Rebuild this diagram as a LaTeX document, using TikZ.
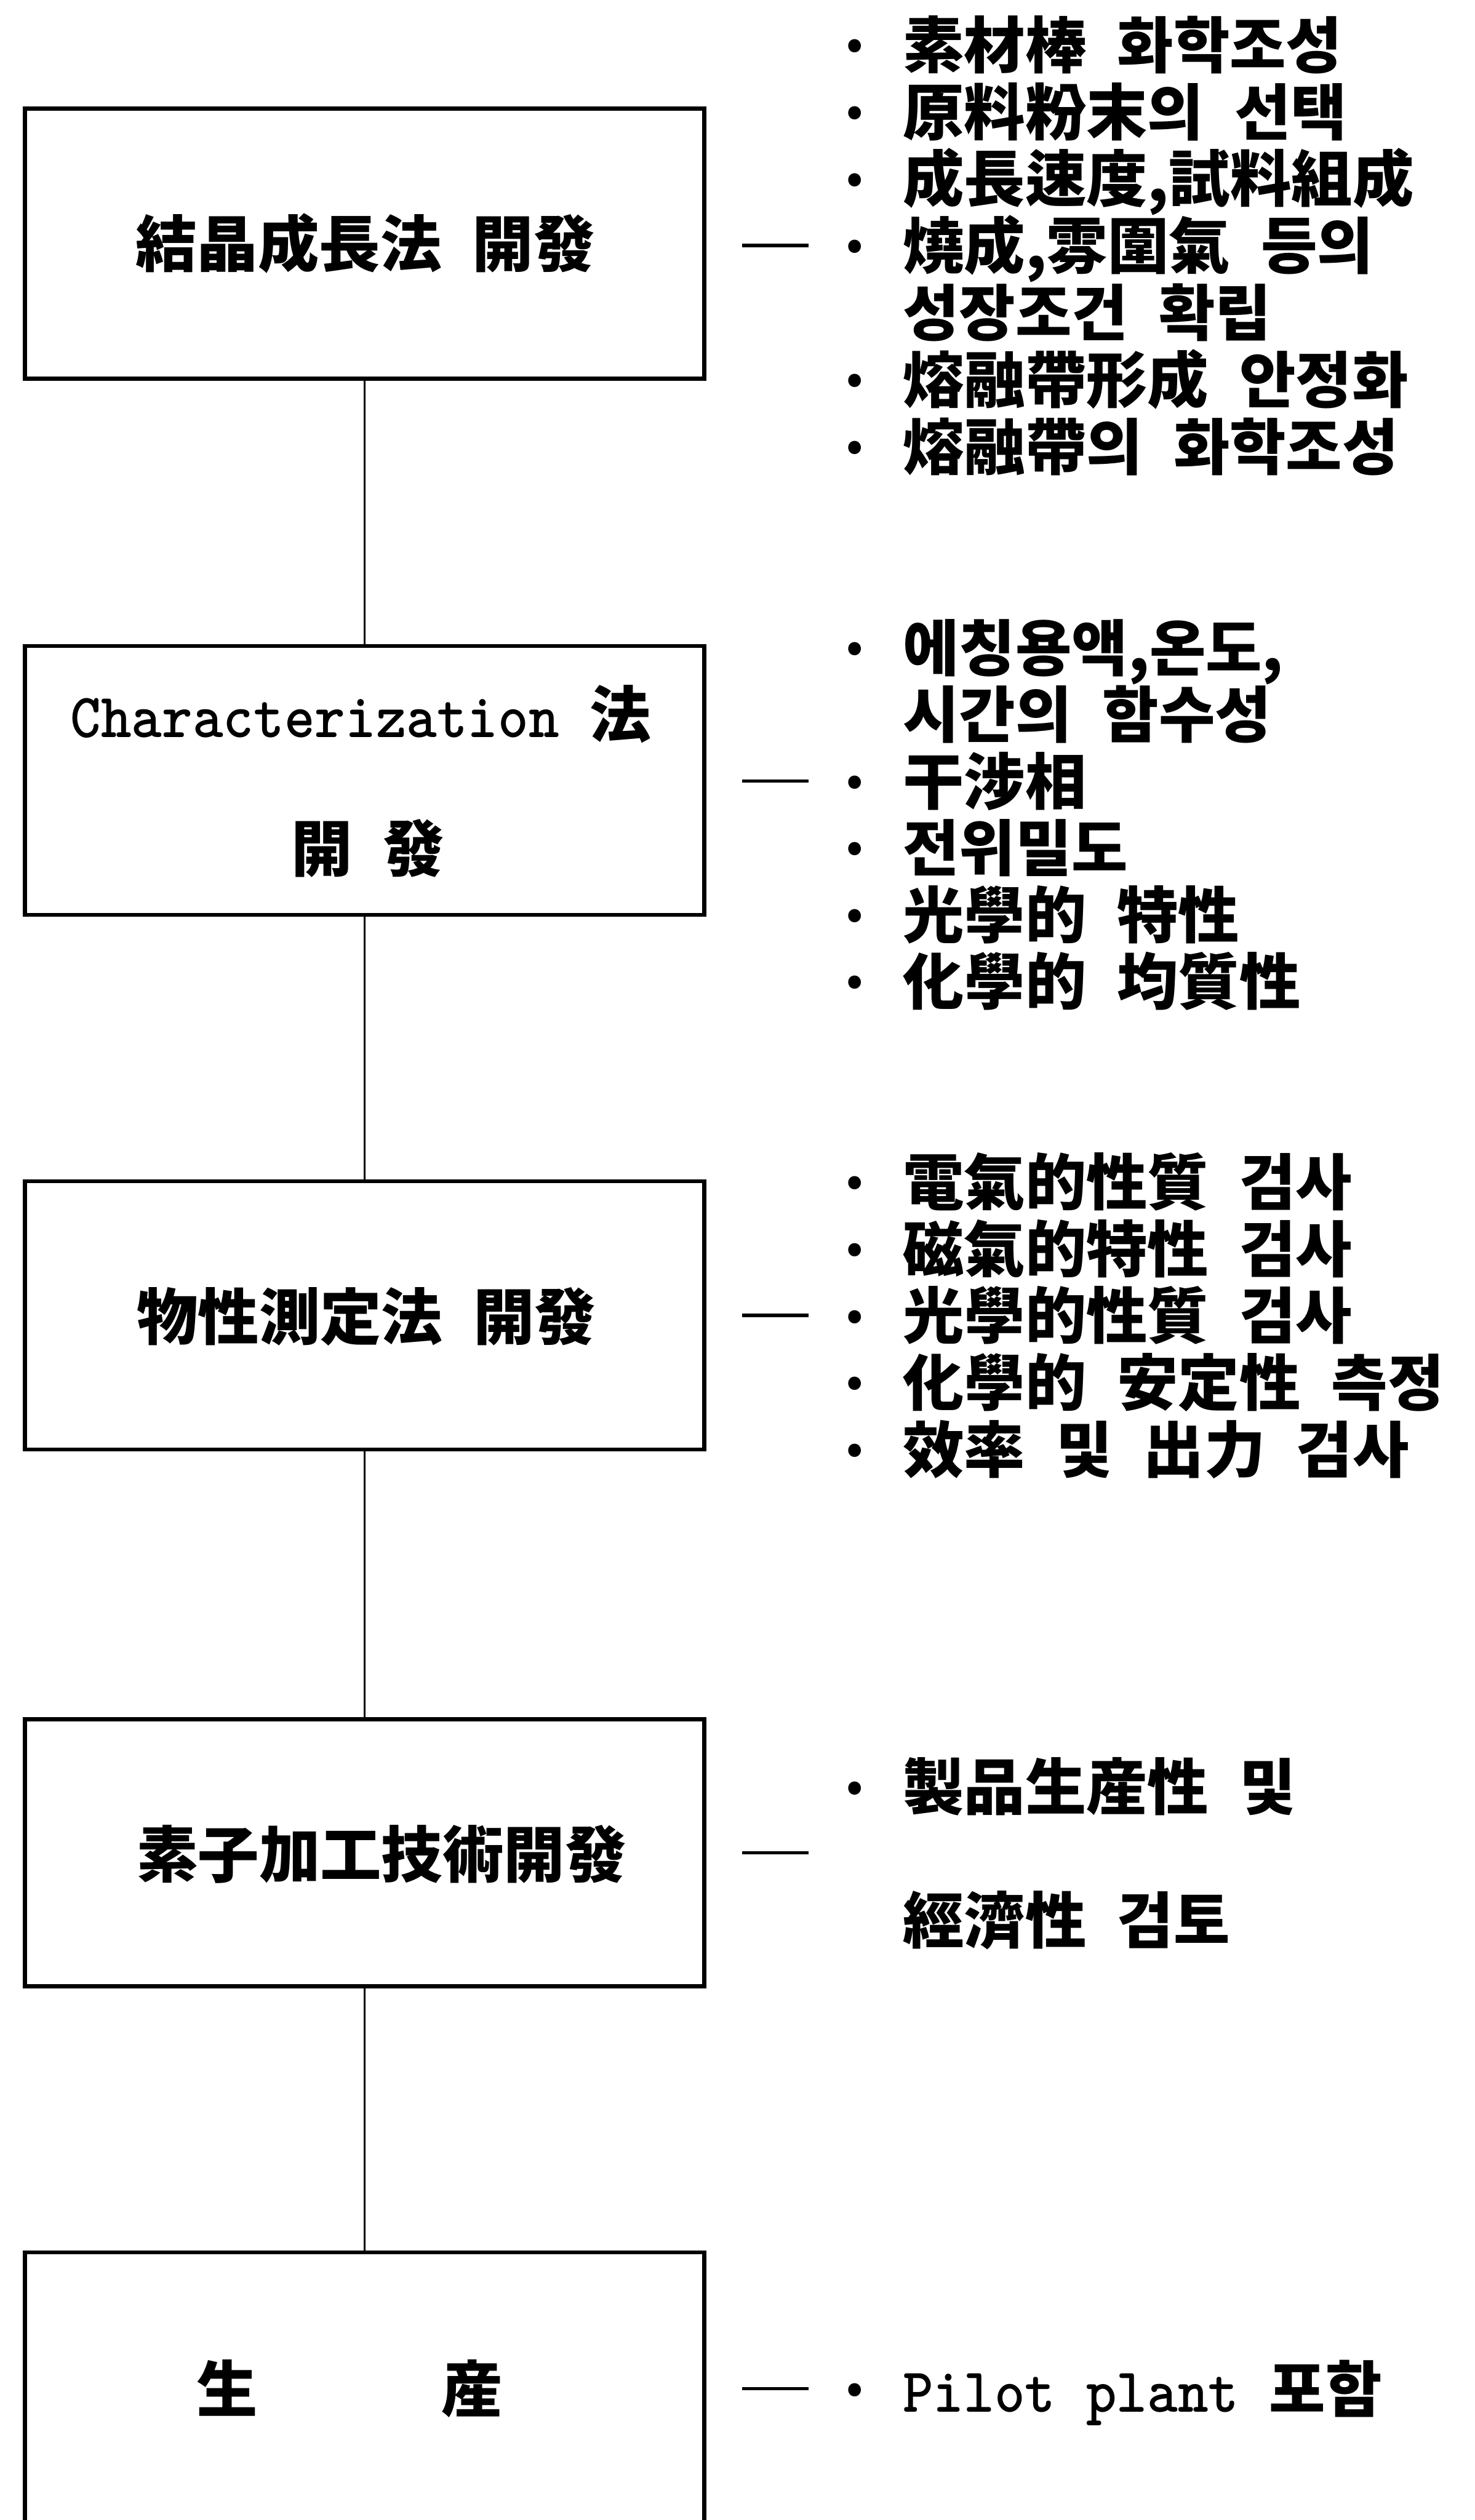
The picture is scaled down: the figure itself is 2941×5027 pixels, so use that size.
\documentclass[tikz,border=0pt]{standalone}
\usepackage{fontspec}
\newfontfamily\kr{Noto Sans CJK KR}[WordSpace=2.2]
\tikzset{
  box/.style={draw, line width=0.08cm, rectangle, minimum width=13.54cm, inner sep=0pt},
  txt/.style={anchor=west, inner sep=0pt, text height=1.074cm, text depth=0.146cm,
    font=\kr\bfseries\fontsize{34.7pt}{40pt}\selectfont},
  dot/.style={inner sep=0pt, text height=0.96cm, text depth=0cm,
    font=\kr\bfseries\fontsize{34pt}{40pt}\selectfont},
  link/.style={line width=0.04cm},
  dashln/.style={line width=0.07cm}
}
\newcommand{\mn}[1]{\scalebox{1}[1.08]{\ttfamily\bfseries\fontsize{33pt}{38pt}\selectfont #1}}
\begin{document}
\begin{tikzpicture}[x=0.01cm,y=-0.01cm]
\useasboundingbox (0,0) rectangle (2941,5027);
\clip (0,0) rectangle (2941,5027);
% boxes
\node[box, minimum height=5.38cm] (b1) at (727,486) {};
\node[box, minimum height=5.36cm] (b2) at (727,1557) {};
\node[box, minimum height=5.35cm] (b3) at (727,2624) {};
\node[box, minimum height=5.32cm] (b4) at (727,3696) {};
\node[box, minimum height=5.47cm] (b5) at (727,4766.5) {};
% box labels
\node[txt] (l1) at (270,486) {結晶成長法 開發};
\node[txt] (l2a) at (140,1424) {\mn{Characterization }法};
\node[txt] (l2b) at (580,1692) {開 發};
\node[txt] (l3) at (272,2626) {物性測定法 開發};
\node[txt] (l4) at (272,3698) {素子加工技術開發};
\node[txt] (l5) at (392,4765) {生　　　産};
% connectors
\draw[link] (b1.south) -- (b2.north);
\draw[link] (b2.south) -- (b3.north);
\draw[link] (b3.south) -- (b4.north);
\draw[link] (b4.south) -- (b5.north);
% dashes
\coordinate (d1s) at (1480,489.5); \coordinate (d1e) at (1613,489.5);
\coordinate (d2s) at (1480,1558); \coordinate (d2e) at (1613,1558);
\coordinate (d3s) at (1480,2624); \coordinate (d3e) at (1613,2624);
\coordinate (d4s) at (1480,3696); \coordinate (d4e) at (1613,3696);
\coordinate (d5s) at (1480,4765); \coordinate (d5e) at (1613,4765);
\draw[dashln] (d1s) -- (d1e);
\draw[dashln] (d2s) -- (d2e);
\draw[dashln] (d3s) -- (d3e);
\draw[dashln] (d4s) -- (d4e);
\draw[dashln] (d5s) -- (d5e);
% group 1
\node[dot] (p11) at (1705,89) {·};
\node[txt] (t11) at (1800,89) {素材棒 화학조성};
\node[dot] (p12) at (1705,222.5) {·};
\node[txt] (t12) at (1800,222.5) {原料粉末의 선택};
\node[dot] (p13) at (1705,356) {·};
\node[txt] (t13) at (1800,356) {成長速度,試料組成};
\node[dot] (p14) at (1705,489.5) {·};
\node[txt] (t14) at (1800,489.5) {燒成,雰圍氣 등의};
\node[txt] (t15) at (1800,623) {성장조건 확립};
\node[dot] (p16) at (1705,756.5) {·};
\node[txt] (t16) at (1800,756.5) {熔融帶形成 안정화};
\node[dot] (p17) at (1705,890) {·};
\node[txt] (t17) at (1800,890) {熔融帶의 화학조성};
% group 2
\node[dot] (p21) at (1705,1292) {·};
\node[txt] (t21) at (1800,1292) {에칭용액,온도,};
\node[txt] (t22) at (1800,1425) {시간의 함수성};
\node[dot] (p23) at (1705,1558) {·};
\node[txt] (t23) at (1800,1558) {干涉相};
\node[dot] (p24) at (1705,1691) {·};
\node[txt] (t24) at (1800,1691) {전위밀도};
\node[dot] (p25) at (1705,1824) {·};
\node[txt] (t25) at (1800,1824) {光學的 特性};
\node[dot] (p26) at (1705,1957) {·};
\node[txt] (t26) at (1800,1957) {化學的 均質性};
% group 3
\node[dot] (p31) at (1705,2357) {·};
\node[txt] (t31) at (1800,2357) {電氣的性質 검사};
\node[dot] (p32) at (1705,2490.5) {·};
\node[txt] (t32) at (1800,2490.5) {磁氣的特性 검사};
\node[dot] (p33) at (1705,2624) {·};
\node[txt] (t33) at (1800,2624) {光學的性質 검사};
\node[dot] (p34) at (1705,2757.5) {·};
\node[txt] (t34) at (1800,2757.5) {化學的 安定性 측정};
\node[dot] (p35) at (1705,2891) {·};
\node[txt] (t35) at (1800,2891) {效率 및 出力 검사};
% group 4
\node[dot] (p41) at (1705,3564) {·};
\node[txt] (t41) at (1800,3564) {製品生産性 및};
\node[txt] (t42) at (1800,3830) {經濟性 검토};
% group 5
\node[dot] (p51) at (1705,4765) {·};
\node[txt] (t51) at (1800,4765) {\mn{Pilot plant }포함};
\end{tikzpicture}
\end{document}
